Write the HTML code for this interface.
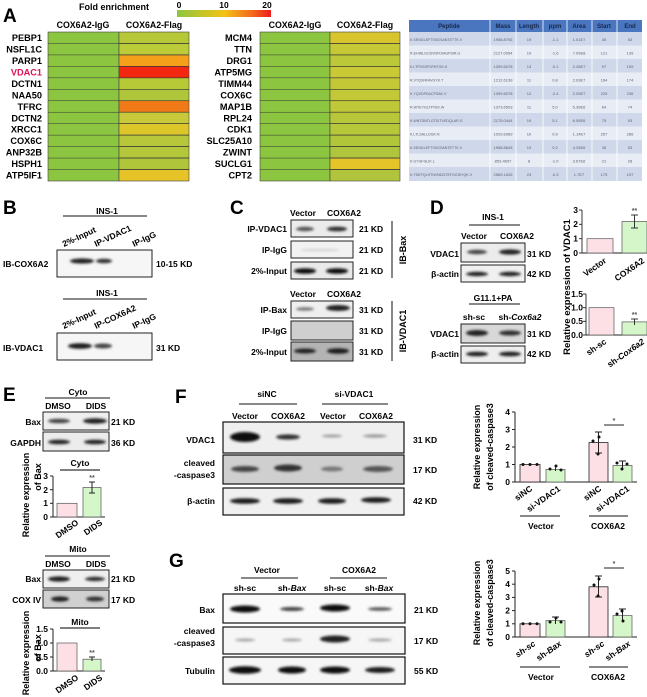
<!DOCTYPE html>
<html><head><meta charset="utf-8"><style>
html,body{margin:0;padding:0;background:#fff;}
svg{display:block;font-family:"Liberation Sans",Arial,sans-serif;font-weight:bold;}
</style></head><body>
<svg width="647" height="697" viewBox="0 0 647 697" xmlns="http://www.w3.org/2000/svg">
<defs>
<filter id="b" x="-50%" y="-100%" width="200%" height="300%"><feGaussianBlur stdDeviation="1.3"/></filter>
<linearGradient id="cb" x1="0" x2="1" y1="0" y2="0">
<stop offset="0" stop-color="#8cc540"/><stop offset="0.5" stop-color="#f4c314"/><stop offset="0.8" stop-color="#f26a1a"/><stop offset="1" stop-color="#ee1c1c"/></linearGradient>
</defs>
<rect width="647" height="697" fill="#fff"/>

<!-- Panel A -->
<text x="3" y="22" font-size="19">A</text>
<text x="114" y="10" font-size="9" text-anchor="middle">Fold enrichment</text>
<rect x="177" y="10" width="94" height="7" fill="url(#cb)"/>
<text x="179" y="8" font-size="8.5" text-anchor="middle">0</text>
<text x="224" y="8" font-size="8.5" text-anchor="middle">10</text>
<text x="267" y="8" font-size="8.5" text-anchor="middle">20</text>
<g font-size="8.8" text-anchor="middle">
<text x="83" y="28">COX6A2-IgG</text><text x="154" y="28">COX6A2-Flag</text>
<text x="295" y="28">COX6A2-IgG</text><text x="365" y="28">COX6A2-Flag</text>
</g>
<g stroke="#444" stroke-width="0.6">
<rect x="48" y="32" width="71" height="149" fill="#8cc540"/>
<rect x="119" y="32.00" width="70" height="11.46" fill="#b6c838"/>
<rect x="119" y="43.46" width="70" height="11.46" fill="#bccb38"/>
<rect x="119" y="54.92" width="70" height="11.46" fill="#f5a01a"/>
<rect x="119" y="66.38" width="70" height="11.46" fill="#f22810"/>
<rect x="119" y="77.84" width="70" height="11.46" fill="#b8c938"/>
<rect x="119" y="89.30" width="70" height="11.46" fill="#b0c63a"/>
<rect x="119" y="100.76" width="70" height="11.46" fill="#f07a18"/>
<rect x="119" y="112.22" width="70" height="11.46" fill="#c8c93a"/>
<rect x="119" y="123.68" width="70" height="11.46" fill="#dcc62a"/>
<rect x="119" y="135.14" width="70" height="11.46" fill="#b8c73a"/>
<rect x="119" y="146.60" width="70" height="11.46" fill="#b4c63a"/>
<rect x="119" y="158.06" width="70" height="11.46" fill="#b0c53a"/>
<rect x="119" y="169.52" width="70" height="11.48" fill="#e6c326"/>
<rect x="260" y="32" width="70" height="149" fill="#8cc540"/>
<rect x="330" y="32.00" width="70" height="11.46" fill="#d8c52e"/>
<rect x="330" y="43.46" width="70" height="11.46" fill="#c5c935"/>
<rect x="330" y="54.92" width="70" height="11.46" fill="#bcc838"/>
<rect x="330" y="66.38" width="70" height="11.46" fill="#c8c934"/>
<rect x="330" y="77.84" width="70" height="11.46" fill="#c5c836"/>
<rect x="330" y="89.30" width="70" height="11.46" fill="#c2c836"/>
<rect x="330" y="100.76" width="70" height="11.46" fill="#bec838"/>
<rect x="330" y="112.22" width="70" height="11.46" fill="#b8c73a"/>
<rect x="330" y="123.68" width="70" height="11.46" fill="#b6c73a"/>
<rect x="330" y="135.14" width="70" height="11.46" fill="#b2c63a"/>
<rect x="330" y="146.60" width="70" height="11.46" fill="#aec53c"/>
<rect x="330" y="158.06" width="70" height="11.46" fill="#e4c428"/>
<rect x="330" y="169.52" width="70" height="11.48" fill="#b0c53c"/>
</g>
<g stroke="#333" stroke-width="0.5">
<line x1="48" x2="189" y1="43.46" y2="43.46"/><line x1="48" x2="189" y1="54.92" y2="54.92"/><line x1="48" x2="189" y1="66.38" y2="66.38"/><line x1="48" x2="189" y1="77.84" y2="77.84"/><line x1="48" x2="189" y1="89.3" y2="89.3"/><line x1="48" x2="189" y1="100.76" y2="100.76"/><line x1="48" x2="189" y1="112.22" y2="112.22"/><line x1="48" x2="189" y1="123.68" y2="123.68"/><line x1="48" x2="189" y1="135.14" y2="135.14"/><line x1="48" x2="189" y1="146.6" y2="146.6"/><line x1="48" x2="189" y1="158.06" y2="158.06"/><line x1="48" x2="189" y1="169.52" y2="169.52"/>
<line x1="260" x2="400" y1="43.46" y2="43.46"/><line x1="260" x2="400" y1="54.92" y2="54.92"/><line x1="260" x2="400" y1="66.38" y2="66.38"/><line x1="260" x2="400" y1="77.84" y2="77.84"/><line x1="260" x2="400" y1="89.3" y2="89.3"/><line x1="260" x2="400" y1="100.76" y2="100.76"/><line x1="260" x2="400" y1="112.22" y2="112.22"/><line x1="260" x2="400" y1="123.68" y2="123.68"/><line x1="260" x2="400" y1="135.14" y2="135.14"/><line x1="260" x2="400" y1="146.6" y2="146.6"/><line x1="260" x2="400" y1="158.06" y2="158.06"/><line x1="260" x2="400" y1="169.52" y2="169.52"/>
</g>
<g font-size="9.2" text-anchor="end">
<text x="42" y="41">PEBP1</text><text x="42" y="52.5">NSFL1C</text><text x="42" y="64">PARP1</text><text x="42" y="75.4" fill="#e0105a">VDAC1</text><text x="42" y="86.9">DCTN1</text><text x="42" y="98.4">NAA50</text><text x="42" y="109.8">TFRC</text><text x="42" y="121.3">DCTN2</text><text x="42" y="132.7">XRCC1</text><text x="42" y="144.2">COX6C</text><text x="42" y="155.6">ANP32B</text><text x="42" y="167.1">HSPH1</text><text x="42" y="178.5">ATP5IF1</text>
<text x="252" y="41">MCM4</text><text x="252" y="52.5">TTN</text><text x="252" y="64">DRG1</text><text x="252" y="75.4">ATP5MG</text><text x="252" y="86.9">TIMM44</text><text x="252" y="98.4">COX6C</text><text x="252" y="109.8">MAP1B</text><text x="252" y="121.3">RPL24</text><text x="252" y="132.7">CDK1</text><text x="252" y="144.2">SLC25A10</text><text x="252" y="155.6">ZWINT</text><text x="252" y="167.1">SUCLG1</text><text x="252" y="178.5">CPT2</text>
</g>

<!-- Table -->
<rect x="409" y="20" width="233" height="12" fill="#4a76c0"/>
<g>
<rect x="409" y="32" width="233" height="13.5" fill="#cfd8ea"/>
<rect x="409" y="45.5" width="233" height="13.5" fill="#e8ecf4"/>
<rect x="409" y="59" width="233" height="13.5" fill="#cfd8ea"/>
<rect x="409" y="72.5" width="233" height="13.5" fill="#e8ecf4"/>
<rect x="409" y="86" width="233" height="13.5" fill="#cfd8ea"/>
<rect x="409" y="99.5" width="233" height="13.5" fill="#e8ecf4"/>
<rect x="409" y="113" width="233" height="13.5" fill="#cfd8ea"/>
<rect x="409" y="126.5" width="233" height="13.5" fill="#e8ecf4"/>
<rect x="409" y="140" width="233" height="13.5" fill="#cfd8ea"/>
<rect x="409" y="153.5" width="233" height="13.5" fill="#e8ecf4"/>
<rect x="409" y="167" width="233" height="14" fill="#cfd8ea"/>
</g>
<g stroke="#fff" stroke-width="0.8">
<line x1="490" x2="490" y1="20" y2="181"/><line x1="516" x2="516" y1="20" y2="181"/><line x1="543" x2="543" y1="20" y2="181"/><line x1="567" x2="567" y1="20" y2="181"/><line x1="592" x2="592" y1="20" y2="181"/><line x1="617" x2="617" y1="20" y2="181"/>
</g>
<g font-size="6" fill="#16284a" text-anchor="middle">
<text x="449" y="28">Peptide</text><text x="503" y="28">Mass</text><text x="529" y="28">Length</text><text x="555" y="28">ppm</text><text x="579" y="28">Area</text><text x="604" y="28">Start</text><text x="630" y="28">End</text>
</g>
<g font-size="3.6" fill="#5a6070" font-weight="normal">
<text x="410" y="41">K.SENGLEFTSSGSANTETTK.V</text>
<text x="410" y="54.5">R.EHINLGCDVDFDIAGPSIR.G</text>
<text x="410" y="68">K.LTFDSSFSPNTGK.K</text>
<text x="410" y="81.5">R.VTQSNFAVGYK.T</text>
<text x="410" y="95">K.YQVDPDACFSAK.V</text>
<text x="410" y="108.5">R.WTEYGLTFTEK.W</text>
<text x="410" y="122">K.WNTDNTLGTEITVEDQLAR.G</text>
<text x="410" y="135.5">K.LTLSALLDGK.N</text>
<text x="410" y="149">K.SENGLEFTSSGSANTETTK.V</text>
<text x="410" y="162.5">K.GYGFGLIK.L</text>
<text x="410" y="176">K.TDEFQLHTNVNDGTEFGGSIYQK.V</text>
</g>
<g font-size="4" fill="#5a6070" font-weight="normal" text-anchor="middle">
<text x="503" y="41">1958.8706</text><text x="529" y="41">19</text><text x="555" y="41">-1.1</text><text x="579" y="41">1.01E7</text><text x="604" y="41">35</text><text x="630" y="41">53</text>
<text x="503" y="54.5">2127.0054</text><text x="529" y="54.5">19</text><text x="555" y="54.5">-1.6</text><text x="579" y="54.5">7.09E8</text><text x="604" y="54.5">121</text><text x="630" y="54.5">139</text>
<text x="503" y="68">1399.6078</text><text x="529" y="68">13</text><text x="555" y="68">-0.1</text><text x="579" y="68">2.28E7</text><text x="604" y="68">97</text><text x="630" y="68">109</text>
<text x="503" y="81.5">1212.6139</text><text x="529" y="81.5">11</text><text x="555" y="81.5">0.8</text><text x="579" y="81.5">2.03E7</text><text x="604" y="81.5">164</text><text x="630" y="81.5">174</text>
<text x="503" y="95">1399.6078</text><text x="529" y="95">12</text><text x="555" y="95">-2.4</text><text x="579" y="95">2.09E7</text><text x="604" y="95">225</text><text x="630" y="95">236</text>
<text x="503" y="108.5">1373.6503</text><text x="529" y="108.5">11</text><text x="555" y="108.5">5.0</text><text x="579" y="108.5">5.39E6</text><text x="604" y="108.5">64</text><text x="630" y="108.5">74</text>
<text x="503" y="122">2175.0444</text><text x="529" y="122">19</text><text x="555" y="122">5.1</text><text x="579" y="122">6.55E6</text><text x="604" y="122">75</text><text x="630" y="122">93</text>
<text x="503" y="135.5">1029.6069</text><text x="529" y="135.5">10</text><text x="555" y="135.5">0.9</text><text x="579" y="135.5">1.14E7</text><text x="604" y="135.5">257</text><text x="630" y="135.5">266</text>
<text x="503" y="149">1958.8845</text><text x="529" y="149">19</text><text x="555" y="149">0.2</text><text x="579" y="149">4.25E6</text><text x="604" y="149">35</text><text x="630" y="149">53</text>
<text x="503" y="162.5">853.4697</text><text x="529" y="162.5">8</text><text x="555" y="162.5">-1.0</text><text x="579" y="162.5">3.67E6</text><text x="604" y="162.5">21</text><text x="630" y="162.5">28</text>
<text x="503" y="176">2569.1626</text><text x="529" y="176">23</text><text x="555" y="176">-0.3</text><text x="579" y="176">1.7E7</text><text x="604" y="176">175</text><text x="630" y="176">197</text>
</g>

<!-- Panel B -->
<text x="3" y="214" font-size="19">B</text>
<g font-size="8.5">
<text x="107" y="214" text-anchor="middle">INS-1</text>
<line x1="63" x2="147" y1="216" y2="216" stroke="#111" stroke-width="1"/>
<text transform="translate(64,247) rotate(-25)">2%-Input</text>
<text transform="translate(96,247) rotate(-25)">IP-VDAC1</text>
<text transform="translate(134,247) rotate(-25)">IP-IgG</text>
<rect x="57" y="250" width="95" height="27" fill="#f6f6f6" stroke="#222" stroke-width="1"/>
<ellipse cx="82" cy="261" rx="12" ry="2.6" fill="#222" filter="url(#b)"/>
<ellipse cx="104" cy="261" rx="8" ry="2.3" fill="#333" filter="url(#b)"/>
<text x="3" y="267">IB-COX6A2</text>
<text x="156" y="267">10-15 KD</text>
<text x="107" y="296" text-anchor="middle">INS-1</text>
<line x1="63" x2="147" y1="299" y2="299" stroke="#111" stroke-width="1"/>
<text transform="translate(64,329) rotate(-25)">2%-Input</text>
<text transform="translate(96,329) rotate(-25)">IP-COX6A2</text>
<text transform="translate(134,329) rotate(-25)">IP-IgG</text>
<rect x="57" y="333" width="95" height="27" fill="#f6f6f6" stroke="#222" stroke-width="1"/>
<ellipse cx="80" cy="346" rx="12" ry="2.8" fill="#1a1a1a" filter="url(#b)"/>
<ellipse cx="103" cy="346" rx="9" ry="2.5" fill="#444" filter="url(#b)"/>
<text x="3" y="351">IB-VDAC1</text>
<text x="156" y="351">31 KD</text>
</g>

<!-- Panel C -->
<text x="230" y="214" font-size="19">C</text>
<g font-size="8.5">
<text x="303" y="216" text-anchor="middle">Vector</text><text x="344" y="216" text-anchor="middle">COX6A2</text>
<rect x="291" y="220" width="62" height="17" fill="#ececec" stroke="#222"/>
<rect x="291" y="241" width="62" height="17" fill="#f2f2f2" stroke="#222"/>
<rect x="291" y="262" width="62" height="17" fill="#eaeaea" stroke="#222"/>
<ellipse cx="305" cy="229" rx="9" ry="2.2" fill="#555" filter="url(#b)"/>
<ellipse cx="337" cy="229" rx="10" ry="2.4" fill="#333" filter="url(#b)"/>
<ellipse cx="320" cy="250" rx="20" ry="1" fill="#ccc" filter="url(#b)"/>
<ellipse cx="305" cy="271" rx="11" ry="2.8" fill="#111" filter="url(#b)"/>
<ellipse cx="337" cy="271" rx="11" ry="2.8" fill="#111" filter="url(#b)"/>
<g text-anchor="end"><text x="287" y="232">IP-VDAC1</text><text x="287" y="253">IP-IgG</text><text x="287" y="274">2%-Input</text></g>
<text x="359" y="232">21 KD</text><text x="359" y="253">21 KD</text><text x="359" y="274">21 KD</text>
<line x1="392" x2="392" y1="221" y2="278" stroke="#111"/>
<text transform="translate(406,250) rotate(-90)" text-anchor="middle" font-size="9">IB-Bax</text>
<text x="303" y="297" text-anchor="middle">Vector</text><text x="344" y="297" text-anchor="middle">COX6A2</text>
<rect x="291" y="301" width="62" height="17" fill="#efefef" stroke="#222"/>
<rect x="291" y="321" width="62" height="19" fill="#cfcfcf" stroke="#222"/>
<rect x="291" y="342" width="62" height="19" fill="#b4b4b4" stroke="#222"/>
<ellipse cx="305" cy="309" rx="9" ry="1.8" fill="#777" filter="url(#b)"/>
<ellipse cx="338" cy="308" rx="12" ry="3" fill="#222" filter="url(#b)"/>
<ellipse cx="305" cy="351" rx="11" ry="2.5" fill="#222" filter="url(#b)"/>
<ellipse cx="338" cy="351" rx="11" ry="2.8" fill="#1a1a1a" filter="url(#b)"/>
<g text-anchor="end"><text x="287" y="313">IP-Bax</text><text x="287" y="334">IP-IgG</text><text x="287" y="355">2%-Input</text></g>
<text x="359" y="313">31 KD</text><text x="359" y="334">31 KD</text><text x="359" y="355">31 KD</text>
<line x1="392" x2="392" y1="301" y2="361" stroke="#111"/>
<text transform="translate(406,331) rotate(-90)" text-anchor="middle" font-size="9">IB-VDAC1</text>
</g>

<!-- Panel D -->
<text x="430" y="214" font-size="19">D</text>
<g font-size="8.5">
<text x="493" y="220" text-anchor="middle">INS-1</text>
<line x1="469" x2="520" y1="225" y2="225" stroke="#111"/>
<text x="474" y="239" text-anchor="middle">Vector</text><text x="517" y="239" text-anchor="middle">COX6A2</text>
<rect x="461" y="243" width="64" height="19" fill="#ececec" stroke="#222"/>
<rect x="461" y="265" width="64" height="17" fill="#f0f0f0" stroke="#222"/>
<ellipse cx="477" cy="252" rx="10" ry="2.2" fill="#444" filter="url(#b)"/>
<ellipse cx="510" cy="252" rx="11" ry="2.6" fill="#222" filter="url(#b)"/>
<ellipse cx="477" cy="274" rx="11" ry="2.2" fill="#222" filter="url(#b)"/>
<ellipse cx="510" cy="274" rx="11" ry="2.2" fill="#222" filter="url(#b)"/>
<text x="459" y="257" text-anchor="end">VDAC1</text><text x="459" y="277" text-anchor="end">β-actin</text>
<text x="527" y="257">31 KD</text><text x="527" y="277">42 KD</text>
<text x="493" y="301" text-anchor="middle">G11.1+PA</text>
<line x1="469" x2="520" y1="304" y2="304" stroke="#111"/>
<text x="474" y="320" text-anchor="middle">sh-sc</text><text x="520" y="320" text-anchor="middle">sh-<tspan font-style="italic">Cox6a2</tspan></text>
<rect x="461" y="324" width="64" height="19" fill="#d8d8d8" stroke="#222"/>
<rect x="461" y="346" width="64" height="17" fill="#eeeeee" stroke="#222"/>
<ellipse cx="477" cy="333" rx="11" ry="3" fill="#222" filter="url(#b)"/>
<ellipse cx="510" cy="333" rx="11" ry="2.6" fill="#333" filter="url(#b)"/>
<ellipse cx="477" cy="354" rx="11" ry="2.3" fill="#1a1a1a" filter="url(#b)"/>
<ellipse cx="510" cy="354" rx="11" ry="2.3" fill="#1a1a1a" filter="url(#b)"/>
<text x="459" y="337" text-anchor="end">VDAC1</text><text x="459" y="357" text-anchor="end">β-actin</text>
<text x="527" y="337">31 KD</text><text x="527" y="357">42 KD</text>
</g>
<text transform="translate(570,287) rotate(-90)" text-anchor="middle" font-size="9.5">Relative expression of VDAC1</text>
<g font-size="8.5" stroke-width="0.9">
<g stroke="#222">
<line x1="582" x2="582" y1="210" y2="253"/><line x1="582" x2="647" y1="253" y2="253"/>
<line x1="579" x2="582" y1="210" y2="210"/><line x1="579" x2="582" y1="224.3" y2="224.3"/><line x1="579" x2="582" y1="238.7" y2="238.7"/><line x1="579" x2="582" y1="253" y2="253"/>
</g>
<g text-anchor="end"><text x="578" y="213">3</text><text x="578" y="227">2</text><text x="578" y="241.5">1</text><text x="578" y="256">0</text></g>
<rect x="587" y="238.7" width="26" height="14.3" fill="#fde0e5" stroke="#555" stroke-width="0.7"/>
<rect x="622" y="221.5" width="25" height="31.5" fill="#d4f6c8" stroke="#555" stroke-width="0.7"/>
<line x1="634.5" x2="634.5" y1="215" y2="228" stroke="#222"/><line x1="631" x2="638" y1="215" y2="215" stroke="#222"/><line x1="631" x2="638" y1="228" y2="228" stroke="#222"/>
<text x="634.5" y="213" text-anchor="middle" font-size="7" fill="#555">**</text>
<text transform="translate(607,262) rotate(-35)" text-anchor="end">Vector</text>
<text transform="translate(645,262) rotate(-35)" text-anchor="end">COX6A2</text>
<g stroke="#222">
<line x1="586" x2="586" y1="294" y2="335"/><line x1="586" x2="647" y1="335" y2="335"/>
<line x1="583" x2="586" y1="294" y2="294"/><line x1="583" x2="586" y1="307.7" y2="307.7"/><line x1="583" x2="586" y1="321.3" y2="321.3"/><line x1="583" x2="586" y1="335" y2="335"/>
</g>
<g text-anchor="end"><text x="583" y="297">1.5</text><text x="583" y="310.5">1.0</text><text x="583" y="324">0.5</text><text x="583" y="338">0.0</text></g>
<rect x="589" y="307.7" width="25" height="27.3" fill="#fde0e5" stroke="#555" stroke-width="0.7"/>
<rect x="622" y="321.9" width="25" height="13.1" fill="#d4f6c8" stroke="#555" stroke-width="0.7"/>
<line x1="634.5" x2="634.5" y1="319" y2="325" stroke="#222"/><line x1="631" x2="638" y1="319" y2="319" stroke="#222"/>
<text x="634.5" y="317" text-anchor="middle" font-size="7" fill="#555">**</text>
<text transform="translate(607,343) rotate(-35)" text-anchor="end">sh-sc</text>
<text transform="translate(645,343) rotate(-35)" text-anchor="end">sh-<tspan font-style="italic">Cox6a2</tspan></text>
</g>

<!-- Panel E -->
<text x="3" y="401" font-size="19">E</text>
<g font-size="8.5">
<text x="78" y="395" text-anchor="middle">Cyto</text>
<line x1="45" x2="110" y1="398" y2="398" stroke="#111"/>
<text x="58" y="409" text-anchor="middle">DMSO</text><text x="96" y="409" text-anchor="middle">DIDS</text>
<rect x="43" y="412" width="66" height="18" fill="#efefef" stroke="#222"/>
<rect x="43" y="432" width="66" height="19" fill="#ececec" stroke="#222"/>
<ellipse cx="59" cy="421" rx="11" ry="2.3" fill="#444" filter="url(#b)"/>
<ellipse cx="95" cy="421" rx="12" ry="2.7" fill="#222" filter="url(#b)"/>
<ellipse cx="59" cy="442" rx="11" ry="2.3" fill="#222" filter="url(#b)"/>
<ellipse cx="95" cy="442" rx="11" ry="2.3" fill="#222" filter="url(#b)"/>
<text x="41" y="425" text-anchor="end">Bax</text><text x="41" y="446" text-anchor="end">GAPDH</text>
<text x="111" y="425">21 KD</text><text x="111" y="446">36 KD</text>
<text x="80" y="466" text-anchor="middle">Cyto</text>
<line x1="60" x2="100" y1="470" y2="470" stroke="#555" stroke-width="1.5"/>
<g stroke="#222"><line x1="53" x2="53" y1="476" y2="517"/><line x1="53" x2="105" y1="517" y2="517"/>
<line x1="50" x2="53" y1="476" y2="476"/><line x1="50" x2="53" y1="489.7" y2="489.7"/><line x1="50" x2="53" y1="503.3" y2="503.3"/><line x1="50" x2="53" y1="517" y2="517"/></g>
<g text-anchor="end"><text x="48" y="479">3</text><text x="48" y="493">2</text><text x="48" y="506">1</text><text x="48" y="520">0</text></g>
<rect x="57" y="503.3" width="20" height="13.7" fill="#fde0e5" stroke="#555" stroke-width="0.7"/>
<rect x="83" y="487.5" width="18" height="29.5" fill="#d4f6c8" stroke="#555" stroke-width="0.7"/>
<line x1="92" x2="92" y1="482" y2="493" stroke="#222"/><line x1="89" x2="95" y1="482" y2="482" stroke="#222"/><line x1="89" x2="95" y1="493" y2="493" stroke="#222"/>
<text x="92" y="480" text-anchor="middle" font-size="7" fill="#555">**</text>
<text transform="translate(79,524) rotate(-35)" text-anchor="end">DMSO</text>
<text transform="translate(103,524) rotate(-35)" text-anchor="end">DIDS</text>
<text transform="translate(29,495) rotate(-90)" text-anchor="middle" font-size="9">Relative expression</text>
<text transform="translate(41,477) rotate(-90)" text-anchor="middle" font-size="9">of Bax</text>

<text x="78" y="552" text-anchor="middle">Mito</text>
<line x1="45" x2="110" y1="556" y2="556" stroke="#111"/>
<text x="58" y="567" text-anchor="middle">DMSO</text><text x="96" y="567" text-anchor="middle">DIDS</text>
<rect x="43" y="570" width="66" height="18" fill="#efefef" stroke="#222"/>
<rect x="43" y="590" width="66" height="18" fill="#d0d0d0" stroke="#222"/>
<ellipse cx="59" cy="579" rx="11" ry="2.6" fill="#222" filter="url(#b)"/>
<ellipse cx="95" cy="579" rx="10" ry="2.2" fill="#333" filter="url(#b)"/>
<ellipse cx="60" cy="599" rx="9" ry="2.6" fill="#222" filter="url(#b)"/>
<ellipse cx="95" cy="599" rx="9" ry="2.4" fill="#333" filter="url(#b)"/>
<text x="41" y="582" text-anchor="end">Bax</text><text x="41" y="603" text-anchor="end">COX IV</text>
<text x="111" y="582">21 KD</text><text x="111" y="603">17 KD</text>
<text x="80" y="625" text-anchor="middle">Mito</text>
<line x1="60" x2="100" y1="628" y2="628" stroke="#555" stroke-width="1.5"/>
<g stroke="#222"><line x1="53" x2="53" y1="629" y2="671"/><line x1="53" x2="105" y1="671" y2="671"/>
<line x1="50" x2="53" y1="629" y2="629"/><line x1="50" x2="53" y1="643" y2="643"/><line x1="50" x2="53" y1="657" y2="657"/><line x1="50" x2="53" y1="671" y2="671"/></g>
<g text-anchor="end"><text x="48" y="632">1.5</text><text x="48" y="646">1.0</text><text x="48" y="660">0.5</text><text x="48" y="674">0.0</text></g>
<rect x="57" y="643" width="20" height="28" fill="#fde0e5" stroke="#555" stroke-width="0.7"/>
<rect x="83" y="659.2" width="18" height="11.8" fill="#d4f6c8" stroke="#555" stroke-width="0.7"/>
<line x1="92" x2="92" y1="657" y2="661" stroke="#222"/><line x1="89" x2="95" y1="657" y2="657" stroke="#222"/>
<text x="92" y="655" text-anchor="middle" font-size="7" fill="#555">**</text>
<text transform="translate(79,679) rotate(-35)" text-anchor="end">DMSO</text>
<text transform="translate(103,679) rotate(-35)" text-anchor="end">DIDS</text>
<text transform="translate(29,653) rotate(-90)" text-anchor="middle" font-size="9">Relative expression</text>
<text transform="translate(41,648) rotate(-90)" text-anchor="middle" font-size="9">of Bax</text>
</g>

<!-- Panel F -->
<text x="175" y="403" font-size="19">F</text>
<g font-size="8.5">
<text x="267" y="397" text-anchor="middle">siNC</text>
<line x1="239" x2="297" y1="404" y2="404" stroke="#111"/>
<text x="354" y="397" text-anchor="middle">si-VDAC1</text>
<line x1="322" x2="388" y1="404" y2="404" stroke="#111"/>
<text x="245" y="419" text-anchor="middle">Vector</text><text x="288" y="419" text-anchor="middle">COX6A2</text>
<text x="333" y="419" text-anchor="middle">Vector</text><text x="376" y="419" text-anchor="middle">COX6A2</text>
<rect x="223" y="422" width="181" height="31" fill="#efefef" stroke="#111" stroke-width="1.2"/>
<rect x="223" y="455" width="181" height="29" fill="#cfcfcf" stroke="#111" stroke-width="1.2"/>
<rect x="223" y="488" width="181" height="27" fill="#f0f0f0" stroke="#111" stroke-width="1.2"/>
<ellipse cx="245" cy="437" rx="15" ry="5" fill="#111" filter="url(#b)"/>
<ellipse cx="288" cy="437" rx="12" ry="2.6" fill="#333" filter="url(#b)"/>
<ellipse cx="332" cy="436" rx="10" ry="1.4" fill="#999" filter="url(#b)"/>
<ellipse cx="375" cy="436" rx="12" ry="1.6" fill="#999" filter="url(#b)"/>
<ellipse cx="245" cy="469" rx="14" ry="3" fill="#444" filter="url(#b)"/>
<ellipse cx="288" cy="468" rx="14" ry="3.5" fill="#333" filter="url(#b)"/>
<ellipse cx="332" cy="469" rx="11" ry="2.5" fill="#777" filter="url(#b)"/>
<ellipse cx="378" cy="469" rx="15" ry="3" fill="#555" filter="url(#b)"/>
<ellipse cx="245" cy="501" rx="15" ry="2.8" fill="#1a1a1a" filter="url(#b)"/>
<ellipse cx="288" cy="501" rx="15" ry="2.8" fill="#1a1a1a" filter="url(#b)"/>
<ellipse cx="332" cy="501" rx="14" ry="2.8" fill="#1a1a1a" filter="url(#b)"/>
<ellipse cx="376" cy="500" rx="15" ry="2.8" fill="#1a1a1a" filter="url(#b)"/>
<g text-anchor="end"><text x="215" y="443">VDAC1</text><text x="215" y="466">cleaved</text><text x="215" y="478">-caspase3</text><text x="215" y="504">β-actin</text></g>
<text x="413" y="443">31 KD</text><text x="413" y="473">17 KD</text><text x="413" y="504">42 KD</text>

<g stroke="#222"><line x1="515" x2="515" y1="412" y2="482"/><line x1="515" x2="637" y1="482" y2="482"/>
<line x1="512" x2="515" y1="412" y2="412"/><line x1="512" x2="515" y1="429.5" y2="429.5"/><line x1="512" x2="515" y1="447" y2="447"/><line x1="512" x2="515" y1="464.5" y2="464.5"/><line x1="512" x2="515" y1="482" y2="482"/></g>
<g text-anchor="end"><text x="510" y="415">4</text><text x="510" y="432.5">3</text><text x="510" y="450">2</text><text x="510" y="467.5">1</text><text x="510" y="485">0</text></g>
<rect x="520" y="464.5" width="20" height="17.5" fill="#fde0e5" stroke="#222" stroke-width="0.8"/>
<rect x="546" y="469.4" width="19" height="12.6" fill="#d4f6c8" stroke="#555" stroke-width="0.7"/>
<rect x="589" y="442.6" width="19" height="39.4" fill="#fde0e5" stroke="#222" stroke-width="0.8"/>
<rect x="613" y="465.4" width="19" height="16.6" fill="#d4f6c8" stroke="#555" stroke-width="0.7"/>
<g stroke="#222"><line x1="555.5" x2="555.5" y1="467.5" y2="471"/><line x1="598.5" x2="598.5" y1="432" y2="453"/><line x1="595" x2="602" y1="432" y2="432"/><line x1="595" x2="602" y1="453" y2="453"/><line x1="622.5" x2="622.5" y1="461" y2="470"/><line x1="619" x2="626" y1="461" y2="461"/></g>
<g fill="#111"><circle cx="523" cy="464.5" r="1.5"/><circle cx="530" cy="464.5" r="1.5"/><circle cx="537" cy="464.5" r="1.5"/>
<circle cx="550" cy="469" r="1.5"/><circle cx="556" cy="466" r="1.5"/><circle cx="561" cy="470" r="1.5"/>
<circle cx="593" cy="441" r="1.5"/><circle cx="599" cy="437" r="1.5"/><circle cx="598" cy="454" r="1.5"/>
<circle cx="617" cy="463" r="1.5"/><circle cx="622" cy="469" r="1.5"/><circle cx="627" cy="464" r="1.5"/></g>
<line x1="604" x2="624" y1="425" y2="425" stroke="#222"/>
<text x="614" y="423" text-anchor="middle" font-size="7" fill="#555">*</text>
<text transform="translate(533,490) rotate(-35)" text-anchor="end">siNC</text>
<text transform="translate(561,490) rotate(-35)" text-anchor="end">si-VDAC1</text>
<text transform="translate(602,490) rotate(-35)" text-anchor="end">siNC</text>
<text transform="translate(630,490) rotate(-35)" text-anchor="end">si-VDAC1</text>
<line x1="520" x2="560" y1="516" y2="516" stroke="#111"/><text x="541" y="529" text-anchor="middle">Vector</text>
<line x1="589" x2="628" y1="516" y2="516" stroke="#111"/><text x="608" y="529" text-anchor="middle">COX6A2</text>
<text transform="translate(480,447) rotate(-90)" text-anchor="middle" font-size="9">Relative expression</text>
<text transform="translate(493,447) rotate(-90)" text-anchor="middle" font-size="9">of cleaved-caspase3</text>
</g>

<!-- Panel G -->
<text x="169" y="567" font-size="19">G</text>
<g font-size="8.5">
<text x="267" y="573" text-anchor="middle">Vector</text>
<line x1="241" x2="298" y1="578" y2="578" stroke="#111"/>
<text x="359" y="573" text-anchor="middle">COX6A2</text>
<line x1="330" x2="387" y1="578" y2="578" stroke="#111"/>
<text x="245" y="591" text-anchor="middle">sh-sc</text><text x="292" y="591" text-anchor="middle">sh-<tspan font-style="italic">Bax</tspan></text>
<text x="335" y="591" text-anchor="middle">sh-sc</text><text x="379" y="591" text-anchor="middle">sh-<tspan font-style="italic">Bax</tspan></text>
<rect x="223" y="594" width="182" height="29" fill="#fafafa" stroke="#111" stroke-width="1.2"/>
<rect x="223" y="627" width="182" height="27" fill="#f6f6f6" stroke="#111" stroke-width="1.2"/>
<rect x="223" y="657" width="182" height="27" fill="#f6f6f6" stroke="#111" stroke-width="1.2"/>
<ellipse cx="245" cy="609" rx="15" ry="3.5" fill="#111" filter="url(#b)"/>
<ellipse cx="292" cy="609" rx="12" ry="2" fill="#444" filter="url(#b)"/>
<ellipse cx="335" cy="608" rx="15" ry="3.5" fill="#111" filter="url(#b)"/>
<ellipse cx="380" cy="609" rx="12" ry="1.8" fill="#555" filter="url(#b)"/>
<ellipse cx="245" cy="640" rx="10" ry="1.6" fill="#aaa" filter="url(#b)"/>
<ellipse cx="292" cy="640" rx="10" ry="1.6" fill="#aaa" filter="url(#b)"/>
<ellipse cx="335" cy="639" rx="15" ry="3.5" fill="#222" filter="url(#b)"/>
<ellipse cx="380" cy="640" rx="12" ry="1.6" fill="#aaa" filter="url(#b)"/>
<ellipse cx="245" cy="670" rx="16" ry="3.8" fill="#111" filter="url(#b)"/>
<ellipse cx="292" cy="670" rx="14" ry="3.5" fill="#111" filter="url(#b)"/>
<ellipse cx="335" cy="670" rx="15" ry="3.5" fill="#111" filter="url(#b)"/>
<ellipse cx="380" cy="670" rx="15" ry="3" fill="#1a1a1a" filter="url(#b)"/>
<g text-anchor="end"><text x="215" y="613">Bax</text><text x="215" y="634">cleaved</text><text x="215" y="646">-caspase3</text><text x="215" y="674">Tubulin</text></g>
<text x="414" y="613">21 KD</text><text x="414" y="644">17 KD</text><text x="414" y="674">55 KD</text>

<g stroke="#222"><line x1="515" x2="515" y1="571" y2="637"/><line x1="515" x2="637" y1="637" y2="637"/>
<line x1="512" x2="515" y1="571" y2="571"/><line x1="512" x2="515" y1="584.2" y2="584.2"/><line x1="512" x2="515" y1="597.4" y2="597.4"/><line x1="512" x2="515" y1="610.6" y2="610.6"/><line x1="512" x2="515" y1="623.8" y2="623.8"/><line x1="512" x2="515" y1="637" y2="637"/></g>
<g text-anchor="end"><text x="510" y="574">5</text><text x="510" y="587">4</text><text x="510" y="600">3</text><text x="510" y="613.5">2</text><text x="510" y="626.5">1</text><text x="510" y="640">0</text></g>
<rect x="520" y="623.8" width="20" height="13.2" fill="#fde0e5" stroke="#222" stroke-width="0.8"/>
<rect x="546" y="620.5" width="19" height="16.5" fill="#d4f6c8" stroke="#555" stroke-width="0.7"/>
<rect x="589" y="586.8" width="19" height="50.2" fill="#fde0e5" stroke="#222" stroke-width="0.8"/>
<rect x="613" y="615.6" width="19" height="21.4" fill="#d4f6c8" stroke="#555" stroke-width="0.7"/>
<g stroke="#222"><line x1="555.5" x2="555.5" y1="617" y2="624"/><line x1="552" x2="559" y1="617" y2="617"/><line x1="598.5" x2="598.5" y1="576" y2="597"/><line x1="595" x2="602" y1="576" y2="576"/><line x1="595" x2="602" y1="597" y2="597"/><line x1="622.5" x2="622.5" y1="609" y2="622"/><line x1="619" x2="626" y1="609" y2="609"/></g>
<g fill="#111"><circle cx="523" cy="623.8" r="1.5"/><circle cx="530" cy="623.8" r="1.5"/><circle cx="537" cy="623.8" r="1.5"/>
<circle cx="550" cy="622" r="1.5"/><circle cx="556" cy="618" r="1.5"/><circle cx="561" cy="622" r="1.5"/>
<circle cx="594" cy="585" r="1.5"/><circle cx="599" cy="579" r="1.5"/><circle cx="598" cy="596" r="1.5"/>
<circle cx="617" cy="614" r="1.5"/><circle cx="622" cy="611" r="1.5"/><circle cx="623" cy="621" r="1.5"/></g>
<line x1="604" x2="624" y1="568" y2="568" stroke="#222"/>
<text x="614" y="566" text-anchor="middle" font-size="7" fill="#555">*</text>
<text transform="translate(536,645) rotate(-35)" text-anchor="end" font-style="italic">sh-sc</text>
<text transform="translate(562,645) rotate(-35)" text-anchor="end">sh-<tspan font-style="italic">Bax</tspan></text>
<text transform="translate(605,645) rotate(-35)" text-anchor="end" font-style="italic">sh-sc</text>
<text transform="translate(631,645) rotate(-35)" text-anchor="end">sh-<tspan font-style="italic">Bax</tspan></text>
<line x1="520" x2="560" y1="667" y2="667" stroke="#111"/><text x="541" y="680" text-anchor="middle">Vector</text>
<line x1="589" x2="628" y1="667" y2="667" stroke="#111"/><text x="608" y="680" text-anchor="middle">COX6A2</text>
<text transform="translate(480,603) rotate(-90)" text-anchor="middle" font-size="9">Relative expression</text>
<text transform="translate(493,603) rotate(-90)" text-anchor="middle" font-size="9">of cleaved-caspase3</text>
</g>
</svg>
</body></html>
